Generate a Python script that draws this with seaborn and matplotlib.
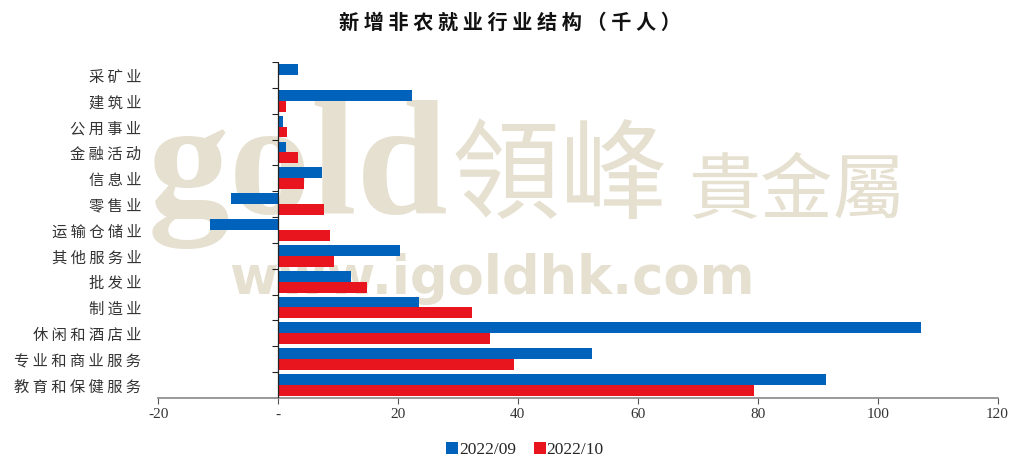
import numpy as np
import pandas as pd
import matplotlib
matplotlib.use("Agg")
import matplotlib.pyplot as plt
import seaborn as sns

# 行业类别（自上而下）
industries = ["采矿业", "建筑业", "公用事业", "金融活动", "信息业", "零售业", "运输仓储业",
              "其他服务业", "批发业", "制造业", "休闲和酒店业", "专业和商业服务", "教育和保健服务"]
sep_2022 = [3.3, 22.3, 0.8, 1.3, 7.4, -7.8, -11.4, 20.3, 12.1, 23.5, 107.3, 52.4, 91.4]
oct_2022 = [0.0, 1.3, 1.5, 3.3, 4.3, 7.6, 8.6, 9.4, 14.9, 32.4, 35.4, 39.3, 79.3]
series_names = ["2022/09", "2022/10"]
x_ticks = [-20, 0, 20, 40, 60, 80, 100, 120]
x_tick_labels = ["-20", "-", "20", "40", "60", "80", "100", "120"]
title = "新增非农就业行业结构（千人）"

BLUE = "#0062BA"
RED = "#E8141E"

df = pd.DataFrame({
    "行业": industries * 2,
    "数值": sep_2022 + oct_2022,
    "月份": [series_names[0]] * len(industries) + [series_names[1]] * len(industries),
})

sns.set_theme(style="white")
plt.rcParams["font.family"] = ["Noto Sans CJK SC", "DejaVu Sans"]
plt.rcParams["axes.unicode_minus"] = False

fig = plt.figure(figsize=(10.2, 4.59), dpi=100)
ax = fig.add_axes([0.155, 0.133, 0.823, 0.732])

# 水印（放在坐标区内、柱子之下）
wm = "#E6E0D0"
tf = fig.transFigure
ax.text(0.145, 0.535, "gold", fontsize=118, family="Liberation Serif", fontweight="bold",
        color=wm, zorder=0, transform=tf)
ax.text(0.443, 0.488, "領峰", fontsize=78, color=wm, zorder=0, transform=tf,
        family=["Noto Sans CJK TC"], va="bottom")
ax.text(0.675, 0.50, "貴金屬", fontsize=52, color=wm, zorder=0, transform=tf,
        family=["Noto Sans CJK TC"], va="bottom")
ax.text(0.225, 0.36, "www.igoldhk.com", fontsize=38, color=wm, zorder=0, transform=tf,
        family="DejaVu Sans", fontweight="bold")

sns.barplot(data=df, y="行业", x="数值", hue="月份", order=industries,
            hue_order=series_names, palette=[BLUE, RED], saturation=1, width=0.84,
            orient="h", ax=ax, zorder=3, legend=True, edgecolor="none")

ax.set_xlim(-20, 120)
ax.set_ylim(len(industries) - 0.5, -0.5)
ax.set_xticks(x_ticks)
ax.set_xticklabels(x_tick_labels, family="Liberation Serif", fontsize=11, color="#333333")
ax.set_yticks(range(len(industries)))
ax.set_yticklabels([" ".join(n) for n in industries])
ax.set_xlabel("")
ax.set_ylabel("")
ax.tick_params(axis="x", direction="out", length=4, width=0.8, color="#555555", bottom=True)
ax.tick_params(axis="y", length=0, pad=12, labelsize=11, labelcolor="#333333")

for s in ["top", "right", "left"]:
    ax.spines[s].set_visible(False)
ax.spines["bottom"].set_color("#888888")
ax.spines["bottom"].set_linewidth(1.2)

# 零轴及分类刻度
ax.axvline(0, color="#222222", linewidth=0.9, zorder=4)
bounds = np.arange(len(industries) + 1) - 0.5
ax.hlines(bounds, -1.0, 0, color="#222222", linewidth=0.8, zorder=4)

fig.text(0.5, 0.952, " ".join(title), ha="center", va="center", fontsize=14.5,
         fontweight="bold", color="#111111")

leg = ax.legend(loc="center", bbox_to_anchor=(0.437, -0.155), ncol=2, frameon=False,
                handlelength=0.7, handleheight=0.7, handletextpad=0.05, columnspacing=1.0,
                prop={"family": "Liberation Serif", "size": 12.5})

fig.savefig("out.png", dpi=100)
